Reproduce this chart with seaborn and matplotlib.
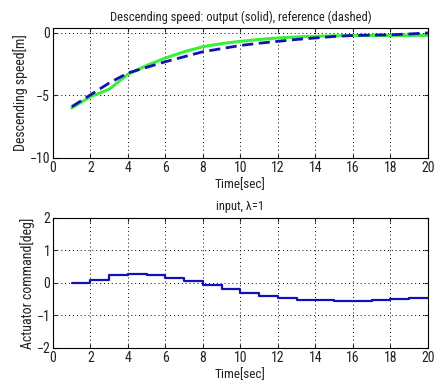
import numpy as np
import pandas as pd
import matplotlib
matplotlib.use("Agg")
import matplotlib.pyplot as plt
import seaborn as sns

# --- DATA ---
t_speed = [1, 2, 3, 4, 5, 6, 7, 8, 9, 10, 11, 12, 13, 14, 15, 16, 17, 18, 19, 20]
speed_out = [-6.0, -5.1, -4.5, -3.3, -2.6, -2.0, -1.5, -1.1, -0.85, -0.67, -0.52, -0.4, -0.32, -0.27, -0.23, -0.2, -0.2, -0.2, -0.2, -0.2]
speed_ref = [-5.9, -4.95, -4.0, -3.2, -2.75, -2.3, -1.9, -1.5, -1.25, -1.0, -0.82, -0.67, -0.52, -0.4, -0.28, -0.2, -0.17, -0.15, -0.08, 0.0]

t_cmd = [1, 2, 3, 4, 5, 6, 7, 8, 9, 10, 11, 12, 13, 14, 15, 16, 17, 18, 19, 20]
cmd = [0.0, 0.09, 0.26, 0.29, 0.26, 0.16, 0.05, -0.06, -0.18, -0.3, -0.39, -0.45, -0.51, -0.53, -0.55, -0.55, -0.53, -0.5, -0.46, -0.46]

sns.set_style("white")
plt.rcParams['font.family'] = ['Roboto Condensed', 'Liberation Sans', 'DejaVu Sans']

GREEN = "#3aee3a"
BLUE = "#1212b4"
TXT = "#222222"

fig = plt.figure(figsize=(4.38, 3.83), dpi=100)
ax1 = fig.add_axes([0.121, 0.5875, 0.856, 0.3395])
ax2 = fig.add_axes([0.121, 0.0914, 0.856, 0.3396])

# top: output vs reference
df_speed = pd.DataFrame({"t": t_speed, "out": speed_out, "ref": speed_ref})
sns.lineplot(data=df_speed, x="t", y="out", ax=ax1, color=GREEN, linewidth=2.2)
sns.lineplot(data=df_speed, x="t", y="ref", ax=ax1, color=BLUE, linewidth=2.0,
             linestyle=(0, (4, 2)))
ax1.set_xlim(0, 20)
ax1.set_ylim(-10, 0.4)
ax1.set_yticks([-10, -5, 0])
ax1.set_xticks(range(0, 21, 2))
ax1.set_xlabel("Time[sec]", labelpad=2, fontsize=9.5, color=TXT)
ax1.set_ylabel("Descending speed[m]", labelpad=1, fontsize=10, color=TXT)
ax1.set_title("Descending speed: output (solid), reference (dashed)", pad=5,
              fontsize=9, color=TXT)

# bottom: actuator command (zero-order hold)
df_cmd = pd.DataFrame({"t": t_cmd, "cmd": cmd})
sns.lineplot(data=df_cmd, x="t", y="cmd", ax=ax2, color=BLUE, linewidth=1.6,
             drawstyle="steps-post")
ax2.set_xlim(0, 20)
ax2.set_ylim(-2, 2)
ax2.set_yticks([-2, -1, 0, 1, 2])
ax2.set_xticks(range(0, 21, 2))
ax2.set_xlabel("Time[sec]", labelpad=2, fontsize=9.5, color=TXT)
ax2.set_ylabel("Actuator command[deg]", labelpad=1, fontsize=10, color=TXT)
ax2.set_title("input, \u03bb=1", pad=6, fontsize=9, color=TXT)

for ax in (ax1, ax2):
    ax.grid(True, color="black", linestyle=(0, (1, 3)), linewidth=0.7)
    ax.tick_params(direction="in", length=3, labelsize=10, top=True, right=True,
                   bottom=True, left=True, pad=2, labelcolor=TXT)
    for s in ax.spines.values():
        s.set_color("black")
        s.set_linewidth(0.8)

fig.savefig("out.png", dpi=100)
